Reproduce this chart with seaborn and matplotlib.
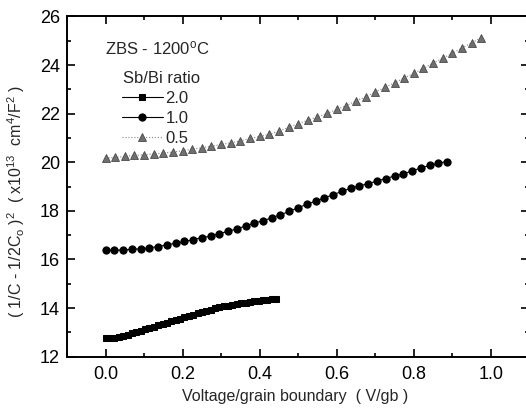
import matplotlib
matplotlib.use('Agg')
import matplotlib.pyplot as plt
import seaborn as sns
from matplotlib.ticker import MultipleLocator

# Sb/Bi = 2.0 (squares)
x_20 = [0.000, 0.011, 0.023, 0.034, 0.045, 0.057, 0.068, 0.080, 0.091, 0.102,
        0.114, 0.125, 0.136, 0.148, 0.159, 0.170, 0.182, 0.193, 0.204, 0.216,
        0.227, 0.239, 0.250, 0.261, 0.273, 0.284, 0.295, 0.307, 0.318, 0.329,
        0.341, 0.352, 0.364, 0.375, 0.386, 0.398, 0.409, 0.420, 0.432, 0.443]
y_20 = [12.75, 12.76, 12.78, 12.82, 12.86, 12.91, 12.96, 13.02, 13.07, 13.13,
        13.18, 13.24, 13.29, 13.34, 13.40, 13.45, 13.51, 13.57, 13.62, 13.68,
        13.73, 13.79, 13.85, 13.89, 13.94, 13.99, 14.03, 14.07, 14.10, 14.14,
        14.17, 14.20, 14.23, 14.26, 14.29, 14.31, 14.33, 14.35, 14.37, 14.38]

# Sb/Bi = 1.0 (circles)
x_10 = [0.000, 0.023, 0.045, 0.068, 0.091, 0.114, 0.136, 0.159, 0.182, 0.204,
        0.227, 0.250, 0.273, 0.295, 0.318, 0.341, 0.364, 0.386, 0.409, 0.432,
        0.454, 0.477, 0.500, 0.523, 0.545, 0.568, 0.591, 0.614, 0.636, 0.659,
        0.682, 0.705, 0.727, 0.750, 0.773, 0.795, 0.818, 0.841, 0.864, 0.886]
y_10 = [16.38, 16.38, 16.39, 16.42, 16.44, 16.48, 16.53, 16.60, 16.67, 16.74,
        16.81, 16.90, 16.96, 17.06, 17.16, 17.26, 17.38, 17.50, 17.59, 17.72,
        17.84, 17.98, 18.13, 18.27, 18.40, 18.53, 18.67, 18.80, 18.93, 19.03,
        19.12, 19.23, 19.33, 19.43, 19.52, 19.64, 19.76, 19.87, 19.96, 20.03]

# Sb/Bi = 0.5 (triangles)
x_05 = [0.000, 0.025, 0.050, 0.075, 0.100, 0.125, 0.150, 0.175, 0.200, 0.225,
        0.250, 0.275, 0.300, 0.325, 0.350, 0.375, 0.400, 0.425, 0.450, 0.475,
        0.500, 0.525, 0.550, 0.575, 0.600, 0.625, 0.650, 0.675, 0.700, 0.725,
        0.750, 0.775, 0.800, 0.825, 0.850, 0.875, 0.900, 0.925, 0.950, 0.975]
y_05 = [20.17, 20.20, 20.24, 20.28, 20.31, 20.34, 20.38, 20.42, 20.47, 20.54,
        20.59, 20.66, 20.73, 20.80, 20.88, 20.98, 21.06, 21.15, 21.28, 21.44,
        21.58, 21.73, 21.86, 22.01, 22.17, 22.33, 22.52, 22.69, 22.89, 23.08,
        23.27, 23.46, 23.66, 23.86, 24.08, 24.28, 24.48, 24.70, 24.91, 25.13]

labels = ['2.0', '1.0', '0.5']
x_ticks = [0.0, 0.2, 0.4, 0.6, 0.8, 1.0]
y_ticks = [12, 14, 16, 18, 20, 22, 24, 26]

sns.set_theme(style='ticks')
plt.rcParams['font.family'] = ['Liberation Sans', 'DejaVu Sans']
plt.rcParams['mathtext.fontset'] = 'custom'
plt.rcParams['mathtext.rm'] = 'Liberation Sans'
plt.rcParams['mathtext.it'] = 'Liberation Sans:italic'

fig = plt.figure(figsize=(5.26, 4.13), dpi=100)
ax = fig.add_axes([0.1274, 0.1363, 0.879, 0.824])

sns.lineplot(x=x_20, y=y_20, ax=ax, color='black', lw=0.8, marker='s',
             markersize=5, markeredgecolor='black', label=labels[0])
sns.lineplot(x=x_10, y=y_10, ax=ax, color='black', lw=0.8, marker='o',
             markersize=5.2, markeredgecolor='black', label=labels[1])
sns.lineplot(x=x_05, y=y_05, ax=ax, color='#8a8a8a', lw=0.8, linestyle=':',
             marker='^', markersize=6.3, markerfacecolor='#6f6f6f',
             markeredgecolor='#4a4a4a', markeredgewidth=0.6, label=labels[2])

ax.set_xlim(-0.1, 1.1)
ax.set_ylim(12, 26)
ax.set_xticks(x_ticks)
ax.set_xticklabels([f'{v:.1f}' for v in x_ticks])
ax.set_yticks(y_ticks)
ax.xaxis.set_minor_locator(MultipleLocator(0.1))
ax.yaxis.set_minor_locator(MultipleLocator(1))
ax.tick_params(which='both', direction='in', top=True, right=True, width=1.2,
               colors='black', labelsize=13)
ax.tick_params(axis='x', pad=7)
ax.tick_params(axis='y', pad=5)
ax.tick_params(which='major', length=6)
ax.tick_params(which='minor', length=3)
for s in ax.spines.values():
    s.set_linewidth(1.4)
    s.set_color('black')

ax.set_xlabel('Voltage/grain boundary  ( V/gb )', fontsize=11.5)
ax.set_ylabel('( 1/C - 1/2C$_\\mathrm{o}$ )$^\\mathrm{2}$  ( x10$^\\mathrm{13}$  cm$^\\mathrm{4}$/F$^\\mathrm{2}$ )',
              fontsize=11.5)
ax.xaxis.set_label_coords(0.493, -0.095)
ax.yaxis.set_label_coords(-0.086, 0.455)

ax.text(0.082, 0.907, 'ZBS - 1200$^\\mathrm{o}$C', transform=ax.transAxes,
        fontsize=12, va='center', ha='left')
ax.text(0.121, 0.818, 'Sb/Bi ratio', transform=ax.transAxes,
        fontsize=12, va='center', ha='left')
ax.legend(loc='upper left', bbox_to_anchor=(0.119, 0.781),
          frameon=False, fontsize=12, handlelength=2.45,
          handletextpad=0.15, labelspacing=0.3, borderpad=0.0,
          borderaxespad=0.0)

fig.savefig('out.png', dpi=100)
